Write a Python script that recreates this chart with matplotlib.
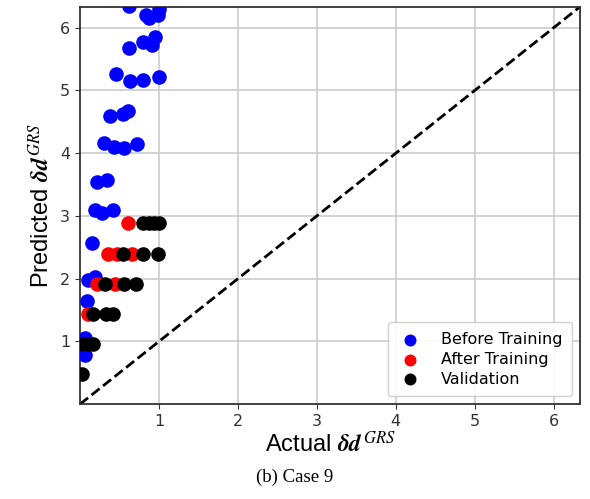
import matplotlib.pyplot as plt

plt.rcParams["mathtext.fontset"] = "stix"

# Before training
before_x = [0.62, 0.84, 0.87, 0.99, 1.0, 0.62, 0.80, 0.91, 0.95, 0.46, 0.63, 0.80, 1.0,
            0.38, 0.55, 0.61, 0.30, 0.43, 0.56, 0.72, 0.22, 0.34,
            0.19, 0.28, 0.42, 0.15, 0.10, 0.19, 0.09, 0.06, 0.06]
before_y = [6.35, 6.21, 6.16, 6.21, 6.30, 5.67, 5.77, 5.73, 5.85, 5.27, 5.15, 5.16, 5.21,
            4.59, 4.63, 4.68, 4.17, 4.10, 4.08, 4.15, 3.54, 3.58,
            3.10, 3.04, 3.10, 2.57, 1.98, 2.03, 1.65, 1.05, 0.78]

# After training
after_x = [0.61, 0.35, 0.47, 0.66, 0.22, 0.44, 0.10, 0.05]
after_y = [2.88, 2.40, 2.40, 2.40, 1.92, 1.92, 1.44, 0.96]

# Validation
val_x = [0.80, 0.87, 0.94, 1.0, 0.54, 0.80, 0.99, 0.32, 0.56, 0.71,
         0.16, 0.33, 0.42, 0.02, 0.09, 0.16, 0.03]
val_y = [2.88, 2.88, 2.88, 2.88, 2.40, 2.40, 2.40, 1.92, 1.92, 1.92,
         1.44, 1.44, 1.44, 0.96, 0.96, 0.96, 0.48]

lim = 6.33

fig = plt.figure(figsize=(5.9, 4.99), dpi=100)
ax = fig.add_axes([0.1356, 0.19, 0.847, 0.796])

ax.scatter(before_x, before_y, s=90, color="blue", label="Before Training", zorder=3)
ax.scatter(after_x, after_y, s=90, color="red", label="After Training", zorder=4)
ax.scatter(val_x, val_y, s=90, color="black", label="Validation", zorder=5)
ax.plot([0, lim], [0, lim], "k--", lw=2, zorder=2)

ax.set_xlim(0, lim)
ax.set_ylim(0, lim)
ax.set_xticks(range(1, 7))
ax.set_yticks(range(1, 7))
ax.tick_params(labelsize=11.5, colors="#333333", labelcolor="#333333")
ax.grid(True, color="#cccccc", lw=1.2)
for sp in ax.spines.values():
    sp.set_color("#333333")
    sp.set_linewidth(1.3)

ax.set_xlabel(r"Actual $\boldsymbol{\delta d}^{\,GRS}$", fontsize=17, family="Liberation Sans", labelpad=2)
ax.set_ylabel(r"Predicted $\boldsymbol{\delta d}^{\,GRS}$", fontsize=17, family="Liberation Sans", labelpad=4)

ax.legend(loc="lower right", fontsize=11.5, handletextpad=1.2, borderpad=0.6,
          labelspacing=0.3, handlelength=1.5, framealpha=0.9, markerscale=0.8)

fig.text(0.5, 0.035, "(b) Case 9", ha="center", fontsize=13.5, family="Liberation Serif")

fig.savefig("out.png")
